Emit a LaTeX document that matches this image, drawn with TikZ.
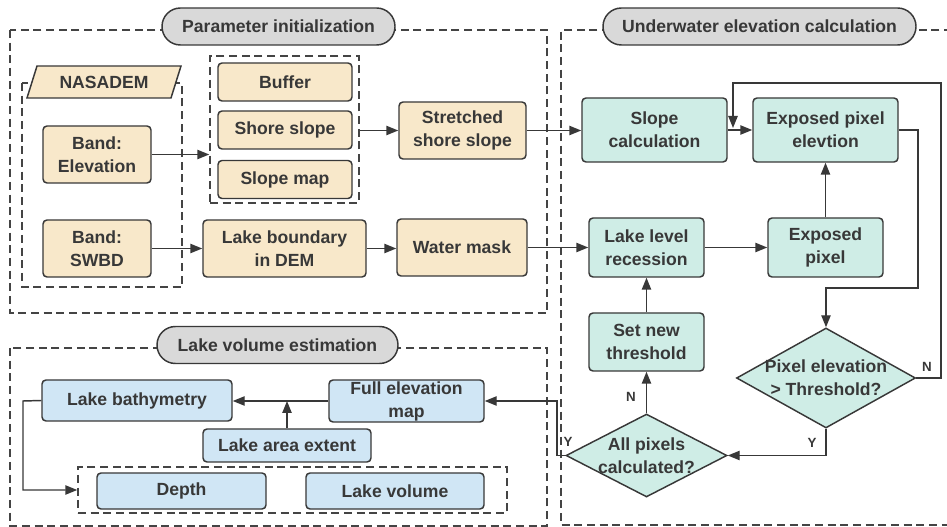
\documentclass[tikz,border=0pt]{standalone}
\usepackage{fontspec}
\setmainfont{Liberation Sans}
\usetikzlibrary{arrows.meta,shapes.geometric}

\definecolor{ink}{HTML}{383838}
\definecolor{dashc}{HTML}{444444}
\definecolor{beigec}{HTML}{F8E8CA}
\definecolor{tealc}{HTML}{CFEDE6}
\definecolor{bluec}{HTML}{D0E6F5}
\definecolor{pillc}{HTML}{D9D9D9}

\begin{document}
\begin{tikzpicture}[x=0.75pt,y=-0.75pt,
  every node/.style={font=\fontsize{13.2}{17.3}\selectfont\bfseries, text=ink},
  box/.style={draw=ink, line width=1.1pt, rounded corners=3pt, align=center, inner sep=0pt},
  beige/.style={box, fill=beigec},
  teal/.style={box, fill=tealc},
  blue/.style={box, fill=bluec},
  decision/.style={diamond, draw=ink, line width=1.1pt, fill=tealc, inner sep=0pt},
  grp/.style={draw=dashc, line width=1.1pt, dash pattern=on 6pt off 3.5pt, inner sep=0pt},
  pill/.style={draw=ink, line width=1.1pt, fill=pillc, rounded corners=13.8pt,
               minimum height=27.75pt, inner sep=0pt},
  arr/.style={draw=ink, line width=1.1pt, -{Triangle[length=9pt,width=7pt]}},
  flag/.style={font=\fontsize{10}{12}\selectfont\bfseries}
]
\useasboundingbox (0,0) rectangle (947,527);

% ---------- section frames ----------
\draw[grp] (10,30) rectangle (547,313);
\draw[grp] (10,348) rectangle (547,526);
\draw[grp] (990,30) -- (561,30) -- (561,525) -- (990,525);

\node[pill, minimum width=174.75pt] (ttlparam) at (278.5,26.5) {Parameter initialization};
\node[pill, minimum width=234.75pt] (ttlunder) at (759.5,26.5) {Underwater elevation calculation};
\node[pill, minimum width=180.75pt] (ttlvol) at (277.5,345) {Lake volume estimation};

% ---------- parameter initialization ----------
\draw[grp] (22,83) rectangle (182,287);
\draw[draw=ink, line width=1.1pt, fill=beigec] (27,98) -- (37,66) -- (181,66) -- (171,98) -- cycle;
\node (nasadem) at (104,82) {NASADEM};

\node[beige, minimum width=81pt, minimum height=42.75pt] (elev) at (97,154.5) {Band:\\Elevation};
\node[beige, minimum width=81pt, minimum height=42.75pt] (swbd) at (97,248.5) {Band:\\SWBD};

\node[grp, minimum width=111.75pt, minimum height=110.25pt] (g1) at (284.5,129.5) {};
\node[beige, minimum width=100.5pt, minimum height=28.5pt] (buffer) at (285,82) {Buffer};
\node[beige, minimum width=100.5pt, minimum height=28.5pt] (shore) at (285,130) {Shore slope};
\node[beige, minimum width=100.5pt, minimum height=28.5pt] (slopemap) at (285,179.5) {Slope map};

\node[beige, minimum width=122.25pt, minimum height=42.75pt] (lakeb) at (284.5,248.5) {Lake boundary\\in DEM};
\node[beige, minimum width=95.25pt, minimum height=42.75pt] (stretched) at (462.5,130.5) {Stretched\\shore slope};
\node[beige, minimum width=97.5pt, minimum height=42.75pt] (water) at (462,247.5) {Water mask};

% ---------- underwater elevation calculation ----------
\node[teal, minimum width=108.75pt, minimum height=48pt] (slopecalc) at (654.5,130) {Slope\\calculation};
\node[teal, minimum width=108.75pt, minimum height=48pt] (expelev) at (825.5,130) {Exposed pixel\\elevtion};
\node[teal, minimum width=86.25pt, minimum height=44.25pt] (lakelevel) at (646.5,247.5) {Lake level\\recession};
\node[teal, minimum width=86.25pt, minimum height=44.25pt] (exppix) at (825.5,247.5) {Exposed\\pixel};
\node[teal, minimum width=86.25pt, minimum height=43.5pt] (setthr) at (646.5,342) {Set new\\threshold};
\node[decision, minimum width=134.25pt, minimum height=75pt,
      label={[align=center]center:Pixel elevation\\> Threshold?}] (pe) at (826,378) {};
\node[decision, minimum width=120.75pt, minimum height=62.25pt,
      label={[align=center]center:All pixels\\calculated?}] (allpix) at (646.5,455.5) {};

% ---------- lake volume estimation ----------
\node[blue, minimum width=142.5pt, minimum height=30.75pt] (bathy) at (137,400.5) {Lake bathymetry};
\node[blue, minimum width=116.25pt, minimum height=31.5pt] (fullelev) at (406.5,401) {Full elevation\\map};
\node[blue, minimum width=126pt, minimum height=24.75pt] (lakearea) at (287,445.5) {Lake area extent};
\node[grp, minimum width=321.75pt, minimum height=34.5pt] (g3) at (292.5,490) {};
\node[blue, minimum width=126.75pt, minimum height=27pt] (depth) at (181.5,491) {Depth};
\node[blue, minimum width=133.5pt, minimum height=27pt] (lakevol) at (395,491) {Lake volume};

% ---------- connector bends ----------
\coordinate (bendA) at (918,288);
\coordinate (bendB) at (941,83);
\coordinate (joinpt) at (733,128);
\coordinate (bendC) at (557,401);
\coordinate (bendD) at (23,401);

% ---------- connectors ----------
\draw[arr] (elev.east) -- (elev.east -| g1.west);
\draw[arr] (stretched.west -| g1.east) -- (stretched.west);
\draw[arr] (swbd.east) -- (swbd.east -| lakeb.west);
\draw[arr] (lakeb.east) -- (lakeb.east -| water.west);
\draw[arr] (stretched.east) -- (stretched.east -| slopecalc.west);
\draw[arr] (water.east) -- (water.east -| lakelevel.west);
\draw[arr] (slopecalc.east) -- (expelev.west);
\draw[arr] (lakelevel.east) -- (exppix.west);
\draw[arr] (exppix.north) -- (expelev.south);
\draw[arr] (setthr.north) -- (lakelevel.south);
\draw[arr] (allpix.north) -- (setthr.south);
\draw[arr] (expelev.east) -| (bendA) -| (pe.north);
\draw[arr] (pe.east) -| (bendB) -| (joinpt);
\draw[arr] (pe.south) |- (allpix.east);
\draw[arr] (allpix.west) -| (bendC) -- (bendC -| fullelev.east);
\draw[arr] (fullelev.west) -- (fullelev.west -| bathy.east);
\draw[arr] (lakearea.north) -- (lakearea.north |- fullelev.west);
\draw[arr] (bathy.west) -- (bendD) |- (g3.west);

% ---------- branch labels ----------
\node[flag] (nA) at (631,397) {N};
\node[flag] (yA) at (568,442) {Y};
\node[flag] (nB) at (927,367) {N};
\node[flag] (yB) at (812,443) {Y};
\end{tikzpicture}
\end{document}
